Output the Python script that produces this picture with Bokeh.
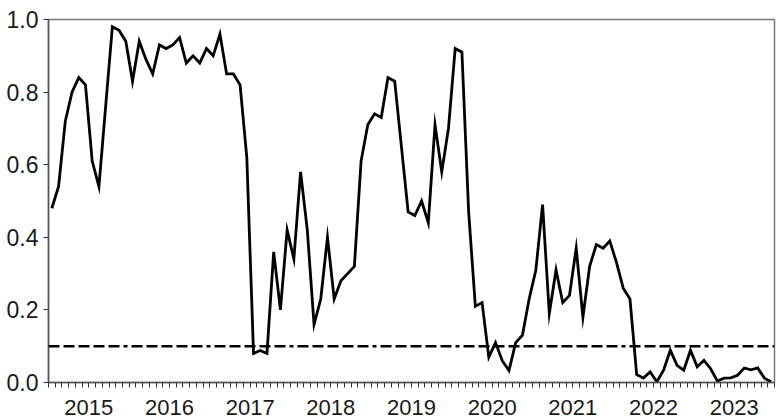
from bokeh.plotting import figure
from bokeh.models import Range1d, FixedTicker, NumeralTickFormatter, Span, Arrow
from bokeh.embed import file_html
from bokeh.resources import INLINE

# ---- data (monthly, Jan 2015 .. Dec 2023) ----
start_year = 2015
n_years = 9
values = [
    0.48, 0.54, 0.72, 0.80, 0.84, 0.82, 0.61, 0.54, 0.76, 0.98, 0.97, 0.94,   # 2015
    0.83, 0.94, 0.89, 0.85, 0.93, 0.92, 0.93, 0.95, 0.88, 0.90, 0.88, 0.92,   # 2016
    0.90, 0.96, 0.85, 0.85, 0.82, 0.62, 0.08, 0.088, 0.08, 0.36, 0.20, 0.42,  # 2017
    0.34, 0.58, 0.42, 0.16, 0.23, 0.40, 0.23, 0.28, 0.30, 0.32, 0.61, 0.71,   # 2018
    0.74, 0.73, 0.84, 0.83, 0.65, 0.47, 0.46, 0.50, 0.44, 0.71, 0.58, 0.70,   # 2019
    0.92, 0.91, 0.47, 0.21, 0.22, 0.07, 0.11, 0.06, 0.033, 0.11, 0.13, 0.23,  # 2020
    0.31, 0.49, 0.19, 0.31, 0.22, 0.24, 0.37, 0.18, 0.32, 0.38, 0.37, 0.39,   # 2021
    0.33, 0.26, 0.23, 0.022, 0.012, 0.029, 0.002, 0.034, 0.089, 0.047, 0.034, 0.089,  # 2022
    0.043, 0.061, 0.038, 0.004, 0.012, 0.013, 0.02, 0.04, 0.035, 0.04, 0.012, 0.002,  # 2023
]
year_labels = ["2015", "2016", "2017", "2018", "2019", "2020", "2021", "2022", "2023"]
threshold = 0.1
y_ticks = [0.0, 0.2, 0.4, 0.6, 0.8, 1.0]

# month midpoints in fractional years
xs = [start_year + (i + 0.5) / 12 for i in range(len(values))]
year_bounds = [start_year + k for k in range(n_years + 1)]
year_mids = [start_year + k + 0.5 for k in range(n_years)]
month_bounds = [start_year + m / 12 for m in range(n_years * 12 + 1)]

FONT = "Liberation Sans"
INK = "#1a1a1a"

p = figure(width=782, height=419, output_backend="svg", toolbar_location=None,
           x_range=Range1d(start_year, start_year + n_years),
           y_range=Range1d(0, 1.0),
           min_border_left=48, min_border_right=8, min_border_top=19,
           min_border_bottom=37)

p.grid.visible = False
p.outline_line_color = "#7a7a7a"
p.outline_line_width = 1.5
p.background_fill_color = "white"
p.border_fill_color = "white"

# x axis: year labels centred in each year, monthly minor ticks
xa = p.xaxis[0]
xa.ticker = FixedTicker(ticks=year_mids, minor_ticks=month_bounds)
xa.major_label_overrides = {m: t for m, t in zip(year_mids, year_labels)}
xa.major_tick_in = 0
xa.major_tick_out = 0
xa.minor_tick_in = 0
xa.minor_tick_out = 5
xa.major_label_standoff = 12
xa.axis_line_color = "#555555"
xa.axis_line_width = 1.5
xa.minor_tick_line_color = "#333333"
xa.major_label_text_font = FONT
xa.major_label_text_font_size = "22px"
xa.major_label_text_color = INK

# longer ticks at the year boundaries
for yb in year_bounds:
    p.add_layout(Arrow(x_start=yb, y_start=0, x_end=yb, y_end=-8 / 363,
                       end=None, start=None, line_color="#333333", line_width=1.3))

ya = p.yaxis[0]
ya.ticker = FixedTicker(ticks=y_ticks, minor_ticks=[])
ya.formatter = NumeralTickFormatter(format="0.0")
ya.major_tick_in = 0
ya.major_tick_out = 5
ya.major_label_standoff = 5
ya.axis_line_color = "#555555"
ya.axis_line_width = 1.5
ya.major_tick_line_color = "#333333"
ya.major_label_text_font = FONT
ya.major_label_text_font_size = "23px"
ya.major_label_text_color = INK

# threshold line
p.add_layout(Span(location=threshold, dimension="width", line_color="black",
                  line_width=2.5, line_dash="11 4 11 4 11 4 11 4 11 4 4 4"))

# series
p.line(xs, values, line_color="black", line_width=2.8, line_join="miter")

open("out.html", "w").write(file_html(p, INLINE))
